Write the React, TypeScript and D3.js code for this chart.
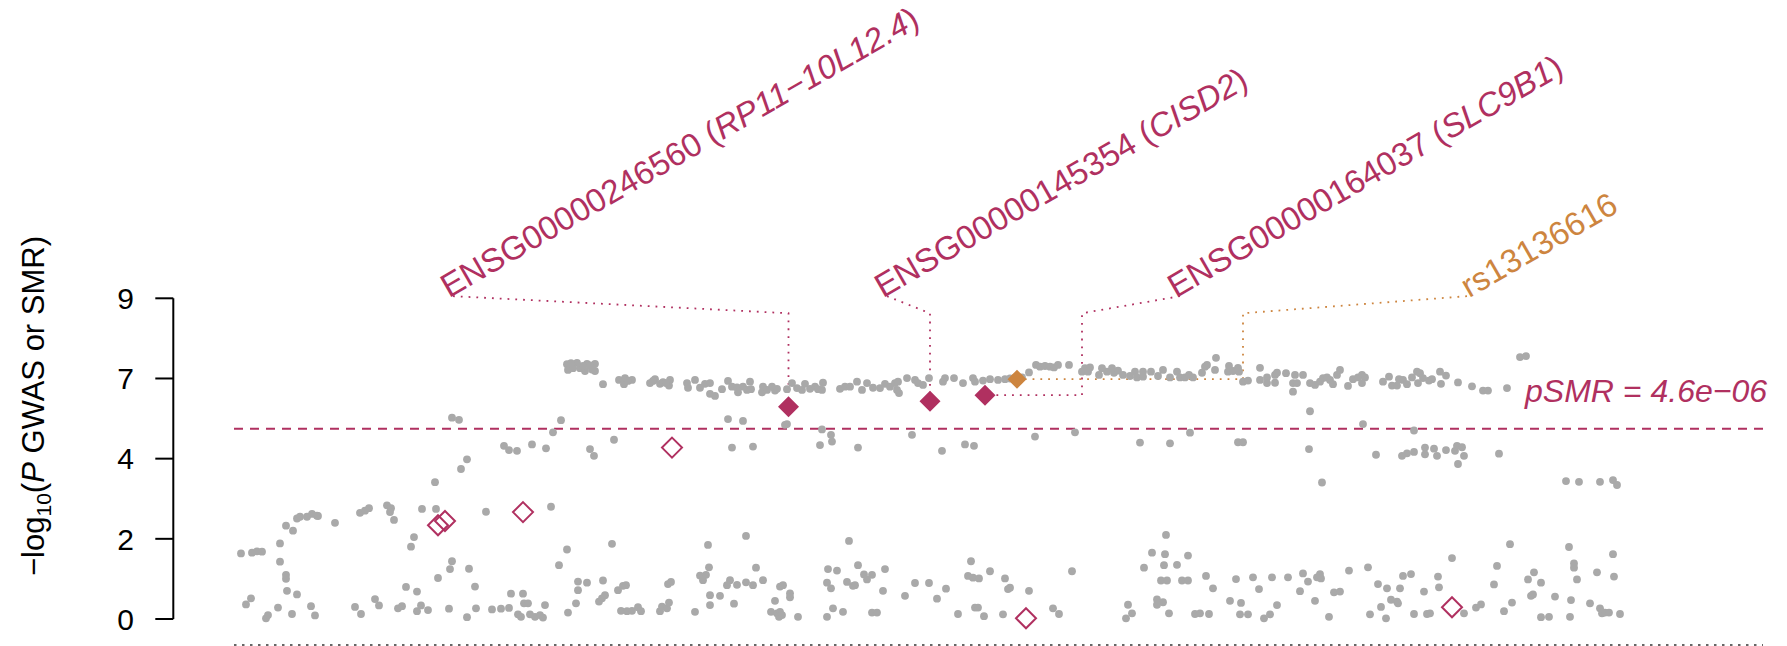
import React from "react";
import * as d3 from "d3";

// GWAS SNPs: [position (kb, chr4), -log10(P GWAS)]
const gwasPoints: [number, number][] = [
  [103241,1.84],[103252,1.86],[103257,1.90],[103262,1.89],[103246,0.41],[103251,0.58],[103266,0.02],[103268,0.11],[103278,0.32],[103280,2.12],[103280,1.61],[103286,1.24],[103286,1.13],[103287,0.79],[103292,0.14],[103297,0.69],[103286,2.62],[103293,2.48],[103297,2.82],[103300,2.87],[103307,2.87],[103312,2.95],[103317,2.90],[103318,2.89],[103311,0.36],[103315,0.10],[103335,2.70],[103355,0.34],[103361,0.14],[103360,2.98],[103365,3.04],[103369,3.11],[103375,0.56],[103379,0.38],[103387,3.19],[103391,3.11],[103390,3.00],[103394,2.78],[103398,0.30],[103402,0.36],[103406,0.90],[103411,2.03],[103414,2.30],[103417,0.77],[103417,0.22],[103421,0.38],[103428,0.25],[103422,3.09],[103435,3.84],[103436,3.09],[103438,1.15],[103449,0.29],[103450,1.40],[103452,1.62],[103452,5.65],[103459,5.59],[103461,4.21],[103467,4.48],[103467,0.05],[103469,1.41],
  [103475,0.91],[103476,0.30],[103486,3.01],[103492,0.27],[103501,0.29],[103509,0.31],[103511,0.71],[103518,0.13],[103521,0.06],[103523,0.71],[103524,0.44],[103528,0.44],[103530,0.13],[103535,0.06],[103540,0.11],[103543,0.04],[103545,0.39],[103504,4.86],[103509,4.74],[103517,4.72],[103532,4.90],[103546,4.79],[103551,3.15],[103553,5.24],[103561,5.58],[103559,1.51],[103567,1.95],[103568,0.18],
  [103567,7.15],[103568,6.99],[103577,7.19],[103580,7.04],[103585,6.96],[103587,7.16],[103595,7.16],[103595,6.96],[103573,7.04],[103571,7.18],[103583,7.10],[103590,7.12],[103592,7.00],
  [103576,0.44],[103578,0.81],[103578,1.05],[103587,1.02],[103590,4.77],[103594,4.58],[103599,0.49],[103602,0.58],[103605,0.67],[103603,6.59],[103603,1.08],[103612,2.11],[103614,5.03],[103618,0.81],[103621,0.23],[103627,0.22],[103632,0.23],[103638,0.33],[103641,0.22],[103619,6.71],[103624,6.59],[103625,6.76],[103632,6.71],[103628,6.68],[103623,0.93],[103626,0.95],[103650,6.62],[103655,6.73],[103660,6.60],[103663,6.65],[103670,6.71],[103669,6.55],[103653,6.68],[103666,6.62],[103660,0.22],[103662,0.35],[103667,0.30],[103669,0.46],[103668,0.98],[103671,1.04],[103687,6.62],[103688,6.49],[103695,6.71],[103700,6.49],[103705,6.60],[103710,6.32],[103695,0.20],[103700,1.22],[103703,1.09],[103706,1.24],[103708,2.08],[103709,1.45],[103710,0.67],[103710,0.39],
  [103710,6.62],[103715,6.26],[103722,6.45],[103728,6.68],[103732,6.52],[103737,6.50],[103738,6.36],[103743,6.52],[103747,6.43],[103750,6.66],[103751,6.45],[103762,6.36],[103763,6.52],[103767,6.43],[103772,6.52],[103775,6.41],[103777,6.46],[103787,6.45],[103792,6.62],[103797,6.48],[103802,6.43],[103805,6.60],[103810,6.46],[103815,6.52],[103818,6.45],[103823,6.63],[103822,6.43],[103840,6.46],[103845,6.52],[103850,6.52],[103857,6.66],[103862,6.43],[103867,6.62],[103873,6.49],[103880,6.48],[103885,6.60],[103890,6.52],[103895,6.62],[103898,6.66],[103899,6.34],[103897,6.43],[103907,6.76],[103915,6.71],[103918,6.62],[103923,6.57],[103929,6.76],[103943,6.66],[103945,6.76],
  [103728,5.61],[103743,5.56],[103787,5.47],[103785,5.45],[103732,4.81],[103753,4.84],[103822,5.32],[103831,5.17],[103832,4.98],[103820,4.88],[103858,4.81],[103912,5.17],[103942,4.72],
  [103746,2.33],[103849,2.19],[103756,1.44],[103828,1.40],[103837,1.36],[103858,1.51],[103885,1.40],[103727,0.95],[103730,1.09],[103737,0.96],[103746,1.03],[103753,0.95],[103763,1.09],[103780,0.91],[103783,0.95],[103790,0.72],[103790,0.61],[103775,0.51],[103720,0.65],[103734,0.43],[103771,0.20],[103777,0.16],[103780,0.20],[103779,0.06],[103782,0.11],[103798,0.06],[103827,1.02],[103831,0.86],[103847,1.04],[103853,0.93],[103855,0.95],[103864,1.25],[103867,1.11],[103872,1.24],[103883,0.79],[103833,0.30],[103827,0.06],[103843,0.20],[103872,0.18],[103877,0.18],[103905,0.65],[103915,1.01],[103929,1.01],[103937,0.57],[103946,0.85],
  [103954,6.76],[103963,6.62],[103973,6.76],[103975,6.66],[103983,6.69],[103990,6.73],[103998,6.71],[104005,6.73],[104010,6.75],[104022,6.78],[104029,6.92],[104036,7.13],[104040,7.08],[104045,7.10],[104050,7.08],[104054,7.06],[104058,7.13],[104069,7.13],[104082,6.94],[104085,7.04],[104090,7.06],[104088,6.94],[104099,6.85],[104102,7.04],[104107,6.94],[104112,7.04],[104114,6.91],[104118,6.97],[104123,6.85],[104130,6.82],[104135,6.94],[104137,6.78],[104143,6.94],[104143,6.80],[104151,6.94],[104158,6.82],[104163,6.99],[104170,6.78],[104177,6.94],[104180,6.78],[104185,6.78],[104189,6.85],
  [103965,4.90],[103974,4.86],[104035,5.12],[104075,5.24],[104140,4.95],[104170,4.93],[104190,5.23],
  [103971,1.62],[103968,1.21],[103973,1.16],[103979,1.14],[103990,1.34],[104005,1.14],[104008,0.84],[104010,0.88],[104029,0.79],[104072,1.34],[103958,0.14],[103975,0.32],[103978,0.32],[103984,0.08],[104003,0.13],[104053,0.30],[104059,0.14],[104166,2.36],[104152,1.86],[104165,1.82],[104188,1.78],[104144,1.44],[104164,1.51],[104177,1.52],[104161,1.08],[104167,1.08],[104182,1.08],[104188,1.08],[104128,0.40],[104132,0.16],[104126,0.02],[104157,0.55],[104157,0.40],[104163,0.47],[104169,0.16],
  [104193,6.78],[104202,6.91],[104205,7.08],[104207,7.13],[104216,7.33],[104215,6.99],[104229,7.10],[104228,6.94],[104233,6.96],[104238,7.05],[104239,6.94],[104243,6.66],[104248,6.69],[104260,7.05],[104260,6.71],[104267,6.78],[104267,6.62],[104275,6.85],[104277,6.91],[104275,6.63],[104286,6.90],[104295,6.85],[104293,6.62],[104297,6.62],[104303,6.85],[104293,6.38],[104310,6.62],[104315,6.57],[104320,6.66],[104323,6.76],[104327,6.78],[104330,6.71],[104333,6.59],[104337,6.85],[104340,6.99],[104348,6.54],[104353,6.73],[104358,6.78],[104362,6.85],[104365,6.78],[104362,6.62],[104383,6.66],[104389,6.80],[104392,6.55],[104397,6.55],[104399,6.73],[104403,6.71],[104407,6.59],[104412,6.78],[104417,6.94],[104420,6.90],[104418,6.62],[104423,6.76],[104429,6.69],
  [104310,5.83],[104363,5.47],[104414,5.29],
  [104238,4.96],[104243,4.96],[104309,4.77],[104322,3.83],[104376,4.61],[104402,4.58],[104407,4.65],[104414,4.69],[104425,4.81],[104425,4.62],
  [104206,1.21],[104213,0.86],[104195,0.14],[104200,0.16],[104209,0.14],[104236,1.12],[104230,0.51],[104241,0.45],[104240,0.13],[104248,0.13],[104253,1.17],[104259,0.84],[104264,0.02],[104270,0.13],[104272,1.17],[104277,0.39],[104288,1.17],[104303,1.28],[104308,1.05],[104300,0.78],[104317,1.17],[104320,1.26],[104321,1.14],[104315,0.51],[104329,0.06],[104334,0.75],[104340,0.77],[104349,1.36],[104368,1.45],[104378,0.98],[104387,0.86],[104370,0.13],[104381,0.34],[104386,0.02],[104391,0.54],[104397,0.49],[104398,0.44],[104400,0.86],[104403,1.21],[104411,1.26],[104414,0.14],[104424,0.77],[104427,0.14],
  [104432,6.73],[104440,6.94],[104446,6.83],[104441,6.60],[104458,6.64],[104472,6.53],[104483,6.41],[104488,6.41],[104507,6.48],[104520,7.35],[104526,7.38],
  [104434,4.78],[104437,4.58],[104446,4.74],[104455,4.72],[104457,4.86],[104462,4.82],[104464,4.58],[104458,4.35],[104499,4.64],[104566,3.87],[104579,3.85],[104600,3.85],[104613,3.90],[104617,3.76],
  [104452,1.71],[104438,1.19],[104439,0.89],[104430,0.16],[104464,0.16],[104476,0.32],[104481,0.41],[104497,1.49],[104494,0.97],[104504,0.22],[104512,0.46],[104510,2.10],[104528,1.11],[104534,1.31],[104541,1.02],[104531,0.65],[104533,0.69],[104541,0.05],[104549,0.06],[104555,0.63],[104569,2.02],[104574,1.56],[104574,1.44],[104577,1.11],[104571,0.53],[104570,0.06],[104590,0.44],[104597,1.31],[104600,0.30],[104602,0.16],[104605,0.18],[104609,0.18],[104613,1.82],[104614,1.19],[104620,0.14],
];

// SMR probes passing the threshold: [position (kb), -log10(P SMR)]
const smrSignificant: [number, number][] = [[103788.5, 5.96], [103930, 6.11], [103985, 6.28]];
// other SMR probes
const smrOther: [number, number][] = [[103438, 2.63], [103445, 2.75], [103523, 3.0], [103672, 4.81], [104026, 0.02], [104452, 0.33]];

const labelProbeIds = ["ENSG00000246560", "ENSG00000145354", "ENSG00000164037"];
const labelGeneNames = ["RP11\u221210L12.4", "CISD2", "SLC9B1"];
const labelAnchorKb = [103453, 103887, 104180];
const labelElbowKb = [103788.5, 103930, 104082];

const topSnpId = "rs13136616";
const topSnp: [number, number] = [104017, 6.73];
const topSnpAnchorKb = 104467;
const topSnpElbowKb = 104243;

const yTickValues = [0, 2.25, 4.5, 6.75, 9];
const yTickLabels = ["0", "2", "4", "7", "9"];
const pSMRThreshold = 4.6e-6;
const windowKb: [number, number] = [103234, 104763];
const labelLevel = 9.06;
const elbowLevel = 8.58;

const MAROON = "#B03060";
const ORANGE = "#CD853F";
const GREY = "#A9A9A9";
const FONT = "'Liberation Sans', Arial, Helvetica, sans-serif";

export default function App() {
  const W = 1787;
  const H = 646;
  const x = d3.scaleLinear().domain(windowKb).range([234, 1763]);
  const y = d3.scaleLinear().domain([0, 9]).range([619, 298.3]);
  const thr = -Math.log10(pSMRThreshold);
  const axisX = 173.3;

  const diamondPath = (cx: number, cy: number, r: number) =>
    `M${cx},${cy - r}L${cx + r},${cy}L${cx},${cy + r}L${cx - r},${cy}Z`;

  const connector = (anchorKb: number, elbowKb: number, pos: number, val: number) => {
    const p = d3.path();
    p.moveTo(x(anchorKb), y(labelLevel));
    p.lineTo(x(elbowKb), y(elbowLevel));
    p.lineTo(x(elbowKb), y(val));
    p.lineTo(x(pos), y(val));
    return p.toString();
  };

  return (
    <svg width={W} height={H} style={{ position: "absolute", left: 0, top: 0, background: "#fff" }} fontFamily={FONT}>
      <rect width={W} height={H} fill="#fff" />
      {/* y axis */}
      <line x1={axisX} x2={axisX} y1={y(0)} y2={y(9)} stroke="#000" strokeWidth={2} />
      {yTickValues.map((v, i) => (
        <g key={i}>
          <line x1={axisX - 18} x2={axisX} y1={y(v)} y2={y(v)} stroke="#000" strokeWidth={2} />
          <text x={134} y={y(v)} dy="0.36em" textAnchor="end" fontSize={30} fill="#000">{yTickLabels[i]}</text>
        </g>
      ))}
      <text transform={`translate(44,406) rotate(-90)`} textAnchor="middle" fontSize={31} fill="#000">
        {"\u2212log"}
        <tspan fontSize={21} dy={7}>10</tspan>
        <tspan dy={-7}>(</tspan>
        <tspan fontStyle="italic">P</tspan>
        {" GWAS or SMR)"}
      </text>

      {/* bottom dotted line */}
      <line x1={x(windowKb[0])} x2={x(windowKb[1])} y1={645} y2={645} stroke="#666" strokeWidth={2} strokeDasharray="2.5 5.5" />

      {/* threshold */}
      <line x1={x(windowKb[0])} x2={x(windowKb[1])} y1={y(thr)} y2={y(thr)} stroke={MAROON} strokeWidth={2} strokeDasharray="9 7" />
      <text x={1767} y={y(thr) - 27} textAnchor="end" fontSize={32} fontStyle="italic" fill={MAROON}>
        pSMR = 4.6e{"\u2212"}06
      </text>

      {/* connectors */}
      {smrSignificant.map((d, i) => (
        <path key={"c" + i} d={connector(labelAnchorKb[i], labelElbowKb[i], d[0], d[1])} fill="none" stroke={MAROON} strokeWidth={1.8} strokeDasharray="1.8 6" />
      ))}
      <path d={connector(topSnpAnchorKb, topSnpElbowKb, topSnp[0], topSnp[1])} fill="none" stroke={ORANGE} strokeWidth={1.8} strokeDasharray="1.8 6" />

      {/* GWAS points */}
      {gwasPoints.map((d, i) => (
        <circle key={i} cx={x(d[0])} cy={y(d[1])} r={3.9} fill={GREY} />
      ))}

      {/* top SNP */}
      <circle cx={x(topSnp[0])} cy={y(topSnp[1])} r={6.5} fill={ORANGE} />
      <path d={diamondPath(x(topSnp[0]), y(topSnp[1]), 9.5)} fill={ORANGE} />

      {/* SMR probes */}
      {smrOther.map((d, i) => (
        <path key={"o" + i} d={diamondPath(x(d[0]), y(d[1]), 10)} fill="none" stroke={MAROON} strokeWidth={2} />
      ))}
      {smrSignificant.map((d, i) => (
        <path key={"s" + i} d={diamondPath(x(d[0]), y(d[1]), 10.5)} fill={MAROON} />
      ))}

      {/* labels */}
      {labelProbeIds.map((id, i) => (
        <text key={"l" + i} transform={`translate(${x(labelAnchorKb[i]) - 4},${y(labelLevel) + 2}) rotate(-30)`} fontSize={33} fill={MAROON}>
          {id} (<tspan fontStyle="italic">{labelGeneNames[i]}</tspan>)
        </text>
      ))}
      <text transform={`translate(${x(topSnpAnchorKb) + 2},${y(labelLevel) + 2}) rotate(-30)`} fontSize={33} fill={ORANGE}>
        {topSnpId}
      </text>
    </svg>
  );
}
